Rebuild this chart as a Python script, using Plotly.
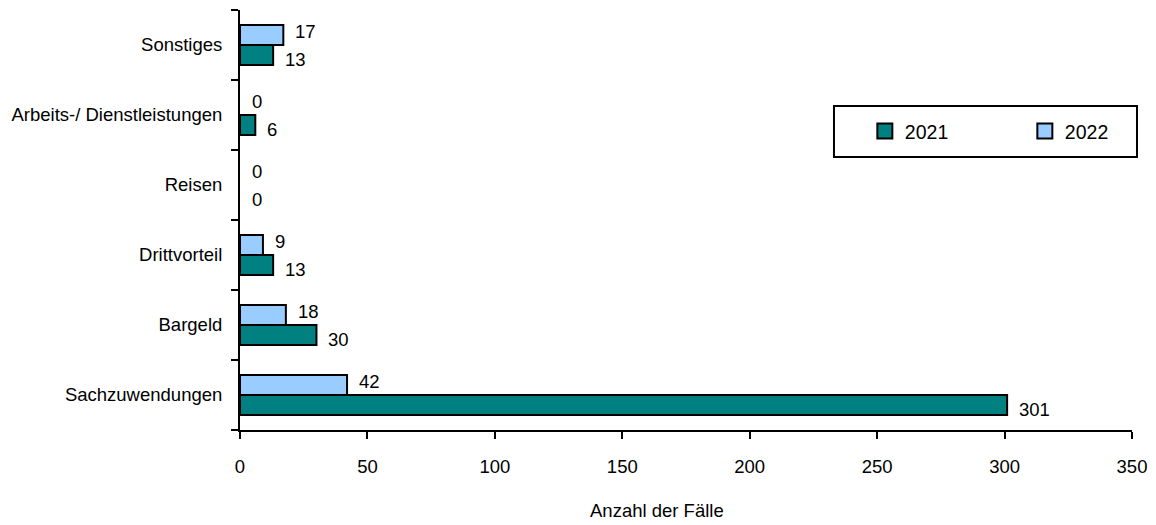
import plotly.graph_objects as go

# Categories listed bottom to top
categories = ["Sachzuwendungen", "Bargeld", "Drittvorteil", "Reisen",
              "Arbeits-/ Dienstleistungen", "Sonstiges"]
values_2021 = [301, 30, 13, 0, 6, 13]
values_2022 = [42, 18, 9, 0, 0, 17]
series_names = ["2021", "2022"]
x_ticks = [0, 50, 100, 150, 200, 250, 300, 350]
x_title = "Anzahl der Fälle"

FONT = "Liberation Sans, Arial, sans-serif"
FS = 18.5
TEAL = "#008080"
LIGHT_BLUE = "#99CCFF"

fig = go.Figure()
for name, vals, color in [(series_names[0], values_2021, TEAL),
                          (series_names[1], values_2022, LIGHT_BLUE)]:
    fig.add_trace(go.Bar(
        name=name, x=vals, y=categories, orientation="h",
        marker=dict(color=color,
                    line=dict(color="black",
                              width=[2 if v > 0 else 0 for v in vals])),
        hoverinfo="x+y", showlegend=False, legendgroup=name,
    ))

# Larger square swatches for the legend entries
for name, color in [(series_names[0], TEAL), (series_names[1], LIGHT_BLUE)]:
    fig.add_trace(go.Scatter(
        name=name, x=[None], y=[None], mode="markers", legendgroup=name,
        marker=dict(symbol="square", size=15, color=color,
                    line=dict(color="black", width=2)),
        hoverinfo="skip",
    ))

# Value labels next to each bar end
for vals, yshift in [(values_2021, -14), (values_2022, 14)]:
    for cat, v in zip(categories, vals):
        fig.add_annotation(
            x=v, y=cat, xref="x", yref="y", text=str(v), showarrow=False,
            xanchor="left", yanchor="middle", xshift=10, yshift=yshift,
            font=dict(family=FONT, size=FS, color="black"),
        )

# Axis title below the tick labels
fig.add_annotation(
    x=0.4675, y=0, xref="paper", yref="paper", text=x_title, showarrow=False,
    xanchor="center", yanchor="middle", yshift=-80,
    font=dict(family=FONT, size=FS, color="black"),
)

# Frame around the legend
fig.add_shape(
    type="rect", xref="paper", yref="paper",
    x0=0.6659, x1=1.0056, y0=0.65, y1=0.7714,
    line=dict(color="black", width=2), fillcolor="white", layer="below",
)

fig.update_layout(
    width=1156, height=525,
    margin=dict(l=240, r=24, t=10, b=95, autoexpand=False),
    paper_bgcolor="white", plot_bgcolor="white",
    barmode="group", bargap=0.43, bargroupgap=0,
    font=dict(family=FONT, size=FS, color="black"),
    showlegend=True,
    legend=dict(
        orientation="h", x=0.7005, y=0.711, xanchor="left", yanchor="middle",
        bgcolor="rgba(0,0,0,0)", borderwidth=0,
        entrywidth=115, entrywidthmode="pixels", itemwidth=30,
        traceorder="normal",
        font=dict(family=FONT, size=FS + 1, color="black"),
    ),
    xaxis=dict(
        range=[0, 350], tickvals=x_ticks, ticktext=[str(t) for t in x_ticks],
        showgrid=False, zeroline=False,
        showline=True, linecolor="black", linewidth=2,
        ticks="outside", ticklen=7, tickwidth=2, tickcolor="black",
        ticklabelstandoff=12,
        tickfont=dict(family=FONT, size=FS, color="black"),
    ),
    yaxis=dict(
        type="category", categoryorder="array", categoryarray=categories,
        range=[-0.5, 5.5],
        showgrid=False, zeroline=False,
        showline=True, linecolor="black", linewidth=2,
        ticks="outside", tickson="boundaries", ticklen=7, tickwidth=2,
        tickcolor="black", ticklabelstandoff=12,
        tickfont=dict(family=FONT, size=FS, color="black"),
    ),
)

fig.write_html("out.html")
